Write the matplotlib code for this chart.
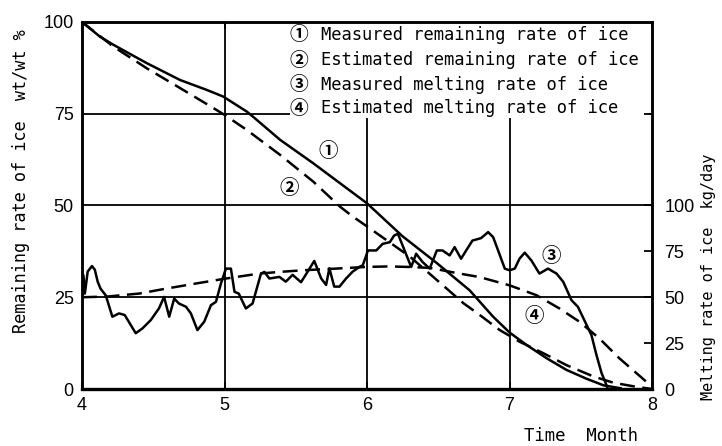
import matplotlib
matplotlib.use("Agg")
import matplotlib.pyplot as plt
from matplotlib.patches import Rectangle

# ---- data ----
# (1) measured remaining rate of ice, wt/wt %
rem_meas_t = [4.0, 4.126, 4.22, 4.454, 4.688, 4.875, 4.99, 5.156, 5.20, 5.39, 5.623,
              5.858, 6.0, 6.25, 6.487, 6.72, 6.885, 7.0, 7.12, 7.26, 7.40, 7.54, 7.66, 7.78]
rem_meas_v = [100, 96.0, 93.8, 88.8, 84.2, 81.5, 79.7, 75.6, 74.2, 67.9, 61.5,
              54.7, 50.6, 41.6, 34.4, 26.9, 19.7, 15.4, 12.0, 8.4, 5.2, 2.8, 1.0, 0.2]
# (2) estimated remaining rate of ice, wt/wt %
rem_est_t = [4.0, 4.22, 4.454, 4.688, 4.92, 5.0, 5.156, 5.39, 5.623, 5.81, 5.90, 6.0,
             6.30, 6.49, 6.676, 6.79, 6.93, 7.07, 7.24, 7.40, 7.59, 7.73, 7.89, 8.0]
rem_est_v = [100, 93.3, 87.4, 82.0, 76.6, 74.7, 70.6, 63.8, 56.5, 49.7, 47.0, 44.3,
             36.1, 29.7, 23.4, 20.2, 16.1, 12.9, 9.7, 6.5, 3.4, 1.7, 0.6, 0.0]
# (3) measured melting rate of ice, kg/day
melt_meas_t = [4.0, 4.01, 4.02, 4.04, 4.07, 4.09, 4.11, 4.13, 4.167, 4.213, 4.26, 4.30,
               4.377, 4.424, 4.483, 4.54, 4.576, 4.612, 4.647, 4.68, 4.73, 4.764, 4.81,
               4.858, 4.905, 4.94, 4.975, 5.01, 5.045, 5.07, 5.10, 5.15, 5.197, 5.256,
               5.28, 5.315, 5.385, 5.43, 5.478, 5.537, 5.584, 5.63, 5.678, 5.713, 5.736,
               5.77, 5.807, 5.854, 5.90, 5.95, 5.97, 5.995, 6.006, 6.065, 6.11, 6.16,
               6.19, 6.217, 6.31, 6.345, 6.39, 6.44, 6.49, 6.53, 6.58, 6.615, 6.66,
               6.70, 6.74, 6.80, 6.85, 6.885, 6.92, 6.967, 7.0, 7.037, 7.07, 7.107,
               7.154, 7.21, 7.27, 7.33, 7.377, 7.435, 7.48, 7.53, 7.575, 7.61, 7.646,
               7.67, 7.69]
melt_meas_v = [50, 62, 52, 64, 67, 65, 58.5, 54.7, 51, 39.4, 41.2, 40.3,
               30.4, 33, 37.6, 43.9, 50.2, 39.4, 49.3, 46.6, 44.8, 41.2, 32.1,
               36.7, 45.7, 47.5, 57.5, 65.6, 65.6, 53, 52, 43.9, 46.6, 62.9,
               63.8, 60.2, 61.1, 58.5, 62.2, 58.2, 64, 69.8, 60.3, 56.7, 65.8,
               55.8, 55.8, 60.3, 64, 66.7, 67.4, 72.8, 75.5, 75.5, 79.1, 80,
               83.6, 84.6, 66.5, 73.7, 69.2, 65.6, 75.5, 75.5, 72.8, 77.3, 71,
               76, 80.9, 82.2, 85.5, 82.8, 75.5, 65.6, 64.7, 65.6, 71, 74.3,
               70, 62.9, 65.6, 62.9, 58.4, 48.4, 44.8, 36.7, 29.4, 18.6, 8.7,
               4.2, 0]
# (4) estimated melting rate of ice, kg/day
melt_est_t = [4.0, 4.18, 4.40, 4.59, 4.80, 5.01, 5.245, 5.385, 5.55, 5.78, 5.99, 6.15,
              6.30, 6.44, 6.65, 6.79, 7.0, 7.19, 7.35, 7.49, 7.63, 7.77, 7.89, 7.97, 8.0]
melt_est_v = [50, 50.4, 52, 54.7, 57.5, 60.2, 62.9, 63.8, 64.7, 65.6, 66.5, 66.8,
              66.5, 66, 62.9, 61, 56.5, 51.1, 43.9, 36.7, 27.6, 16.8, 8.7, 3.3, 1.5]

x_ticks = [4, 5, 6, 7, 8]
left_ticks = [0, 25, 50, 75, 100]
right_ticks = [0, 25, 50, 75, 100]

legend_labels = ["Measured remaining rate of ice",
                 "Estimated remaining rate of ice",
                 "Measured melting rate of ice",
                 "Estimated melting rate of ice"]
markers = ["①", "②", "③", "④"]

# ---- figure ----
W, H = 722, 446
fig = plt.figure(figsize=(W / 100, H / 100), dpi=100)
L, R, T, B = 82, 652, 22, 389
ax = fig.add_axes([L / W, 1 - B / H, (R - L) / W, (B - T) / H])
ax.set_xlim(4, 8)
ax.set_ylim(0, 100)
ax2 = ax.twinx()
ax2.set_ylim(0, 200)

MONO = ["DejaVu Sans Mono"]
NARROW = ["Liberation Sans Narrow", "Liberation Sans", "DejaVu Sans"]
CIRC = ["Noto Sans CJK JP", "DejaVu Sans"]

# grid
for v in [25, 50, 75]:
    ax.axhline(v, color="black", lw=1.3, zorder=1)
for m in [5, 6, 7]:
    ax.axvline(m, color="black", lw=1.3, zorder=1)

# legend white box
bx0 = (290 - L) / (R - L)
by0 = (B - 118) / (B - T)
ax.add_patch(Rectangle((bx0, by0), 0.995 - bx0, 1 - by0, transform=ax.transAxes,
                       facecolor="white", edgecolor="none", zorder=2))

# curves
ax.plot(rem_meas_t, rem_meas_v, color="black", lw=1.8, zorder=3)
ax.plot(rem_est_t, rem_est_v, color="black", lw=1.8, dashes=(6, 3), zorder=3)
ax2.plot(melt_meas_t, melt_meas_v, color="black", lw=1.8, zorder=3)
ax2.plot(melt_est_t, melt_est_v, color="black", lw=1.8, dashes=(6, 3), zorder=3)

# spines
for a in (ax, ax2):
    for s in a.spines.values():
        s.set_linewidth(1.8)
ax.spines["bottom"].set_linewidth(2.4)

# ticks
ax.set_xticks(x_ticks)
ax.set_xticklabels([str(t) for t in x_ticks], fontfamily=NARROW, fontsize=13)
ax.set_yticks(left_ticks)
ax.set_yticklabels([str(t) for t in left_ticks], fontfamily=NARROW, fontsize=13)
ax.tick_params(axis="x", direction="in", length=5, width=1.3, top=True, pad=6)
ax.tick_params(axis="y", direction="in", length=0, pad=6)
ax2.set_yticks(right_ticks + [150])
ax2.set_yticklabels([str(t) for t in right_ticks] + [""], fontfamily=NARROW, fontsize=13)
ax2.tick_params(axis="y", direction="in", length=6, width=1.3, pad=9)

# legend text
rows_y = [35, 60, 85, 108]
for mk, lab, yy in zip(markers, legend_labels, rows_y):
    fig.text(290 / W, 1 - yy / H, mk, family=CIRC, fontsize=13.5, fontweight="bold",
             va="center", ha="left")
    fig.text(321 / W, 1 - yy / H, lab, family=MONO, fontsize=12.3, va="center", ha="left")

# curve annotations
ax.text(5.73, 64.7, "①", family=CIRC, fontsize=14, fontweight="bold",
        ha="center", va="center", zorder=4)
ax.text(5.455, 54.7, "②", family=CIRC, fontsize=14, fontweight="bold",
        ha="center", va="center", zorder=4)
ax.text(7.29, 36.2, "③", family=CIRC, fontsize=14, fontweight="bold",
        ha="center", va="center", zorder=4)
ax.text(7.17, 19.8, "④", family=CIRC, fontsize=14, fontweight="bold",
        ha="center", va="center", zorder=4)

# axis titles
fig.text(21 / W, 1 - 181 / H, "Remaining rate of ice  wt/wt %", family=MONO,
         fontsize=12.2, rotation=90, ha="center", va="center")
fig.text(709 / W, 1 - 277 / H, "Melting rate of ice  kg/day", family=MONO,
         fontsize=11, rotation=90, ha="center", va="center")
fig.text(581 / W, 1 - 436 / H, "Time  Month", family=MONO, fontsize=12.4,
         ha="center", va="center")

fig.savefig("out.png", dpi=100)
